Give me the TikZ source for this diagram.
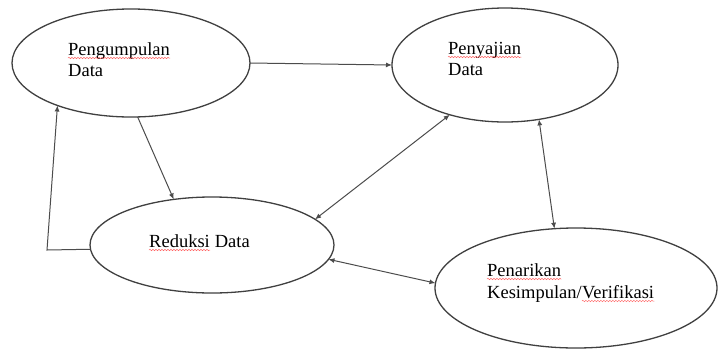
\documentclass[tikz,border=0pt]{standalone}
\usepackage{fontspec}
\setmainfont{Liberation Serif}
\usetikzlibrary{shapes.geometric,arrows.meta,decorations.pathmorphing}
\begin{document}
\begin{tikzpicture}[x=1pt,y=-1pt,
  oval/.style={draw=black!75,line width=1.3pt,ellipse,inner sep=0pt,outer sep=0pt},
  lbl/.style={anchor=base west,inner sep=0pt,font=\fontsize{18.5}{22}\selectfont,text=black},
  conn/.style={draw=black!70,line width=1pt},
  tip/.style={-{Latex[length=6pt,width=5pt]}},
  both/.style={{Latex[length=6pt,width=5pt]}-{Latex[length=6pt,width=5pt]}},
  spell/.style={draw=red!60,line width=0.5pt,decorate,decoration={snake,amplitude=0.7pt,segment length=3pt}}]
\useasboundingbox[fill=white] (0,0) rectangle (718,349);
% ellipses
\node[oval,minimum width=238pt,minimum height=108pt] (e1) at (131,63) {};
\node[oval,minimum width=226pt,minimum height=114pt] (e2) at (505,65) {};
\node[oval,minimum width=244pt,minimum height=96pt] (e3) at (212,245) {};
\node[oval,minimum width=282pt,minimum height=120pt] (e4) at (576,288) {};
% labels
\node[lbl] (t1a) at (68,55) {Pengumpulan};
\node[lbl] (t1b) at (68,76) {Data};
\node[lbl] (t2a) at (448,54) {Penyajian};
\node[lbl] (t2b) at (448,75) {Data};
\node[lbl] (t3a) at (149,247) {Reduksi};
\node[lbl,anchor=base west] (t3b) at ([xshift=4.6pt]t3a.base east) {Data};
\node[lbl] (t4a) at (487,276) {Penarikan};
\node[lbl] (t4b) at (487,298) {Kesimpulan/};
\node[lbl,anchor=base west] (t4c) at (t4b.base east) {Verifikasi};
% spell-check underlines
\foreach \n in {t1a,t2a,t3a,t4a,t4c}
  \draw[spell] ([yshift=-3pt]\n.base west) -- ([yshift=-3pt]\n.base east);
% connectors
\draw[conn,tip] (e1.east) -- (e2.west);
\draw[conn,tip] (e1.-83) -- (e3.130);
\coordinate (c1) at (47,250);
\draw[conn,tip] (e3.182) -- (c1) -- (e1.210);
\draw[conn,both] (e3.14) -- (e2.222);
\draw[conn,both] (e4.110) -- (e2.-58);
\draw[conn,both] (e3.-7) -- (e4.178);
\end{tikzpicture}
\end{document}
